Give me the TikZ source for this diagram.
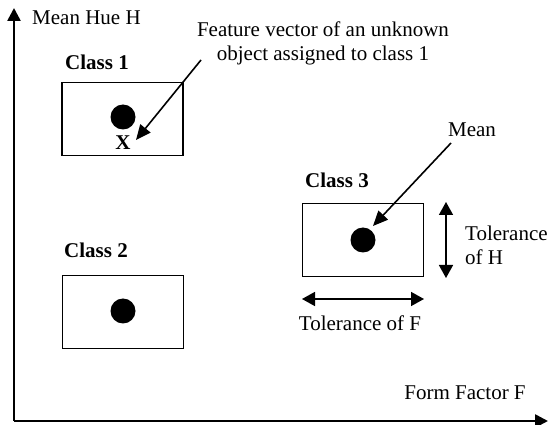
\documentclass[tikz,border=0pt]{standalone}
\usepackage{fontspec}
\setmainfont{Liberation Serif}
\usetikzlibrary{arrows.meta}
\begin{document}
\begin{tikzpicture}[x=1pt,y=-1pt,
  txt/.style={font=\fontsize{21}{24}\selectfont, inner sep=0pt},
  btxt/.style={font=\fontsize{21}{24}\selectfont\bfseries, inner sep=0pt},
  classbox/.style={draw, line width=1.5pt, minimum width=121pt, minimum height=73pt, inner sep=0pt},
  meandot/.style={circle, fill=black, minimum size=25pt, inner sep=0pt},
  axis/.style={line width=2.6pt, -{Triangle[length=13pt,width=13pt]}},
  pointer/.style={line width=1.6pt, -{Triangle[length=15pt,width=13pt]}},
  dimarrow/.style={line width=1.6pt, {Triangle[length=13pt,width=14pt]}-{Triangle[length=13pt,width=14pt]}}
]
\useasboundingbox (0,0) rectangle (550,425);
% axes
\coordinate (origin) at (14,421);
\coordinate (ytip) at (14,8);
\coordinate (xtip) at (548,421);
\draw[axis] (origin) -- (ytip);
\draw[axis] (origin) -- (xtip);
\node[txt, anchor=west] (ylab) at (32,18) {Mean Hue H};
\node[txt] (xlab) at (465,393) {Form Factor F};
% class 1
\node[classbox] (box1) at (122.5,119) {};
\node[meandot] (dot1) at (123,117) {};
\node[btxt] (x1) at (123,143) {X};
\node[btxt] (c1) at (97,62) {Class 1};
% class 2
\node[classbox] (box2) at (123,312) {};
\node[meandot] (dot2) at (123,311) {};
\node[btxt] (c2) at (96,250) {Class 2};
% class 3
\node[classbox] (box3) at (363,240) {};
\node[meandot] (dot3) at (363,240) {};
\node[btxt] (c3) at (337,180) {Class 3};
% feature vector
\node[txt, align=center] (feat) at (323,43) {Feature vector of an unknown\\object assigned to class 1};
\coordinate (featstart) at (201,60);
\coordinate (featend) at (136,140);
\draw[pointer] (featstart) -- (featend);
% mean
\node[txt] (mean) at (472,130) {Mean};
\coordinate (meanstart) at (451,143);
\coordinate (meanend) at (373,226);
\draw[pointer] (meanstart) -- (meanend);
% tolerance H
\coordinate (th1) at (446,202);
\coordinate (th2) at (446,278);
\draw[dimarrow] (th1) -- (th2);
\node[txt, anchor=west, align=left] (tolh) at (465,245) {Tolerance\\of H};
% tolerance F
\coordinate (tf1) at (302,299);
\coordinate (tf2) at (424,299);
\draw[dimarrow] (tf1) -- (tf2);
\node[txt] (tolf) at (360,323) {Tolerance of F};
\end{tikzpicture}
\end{document}
